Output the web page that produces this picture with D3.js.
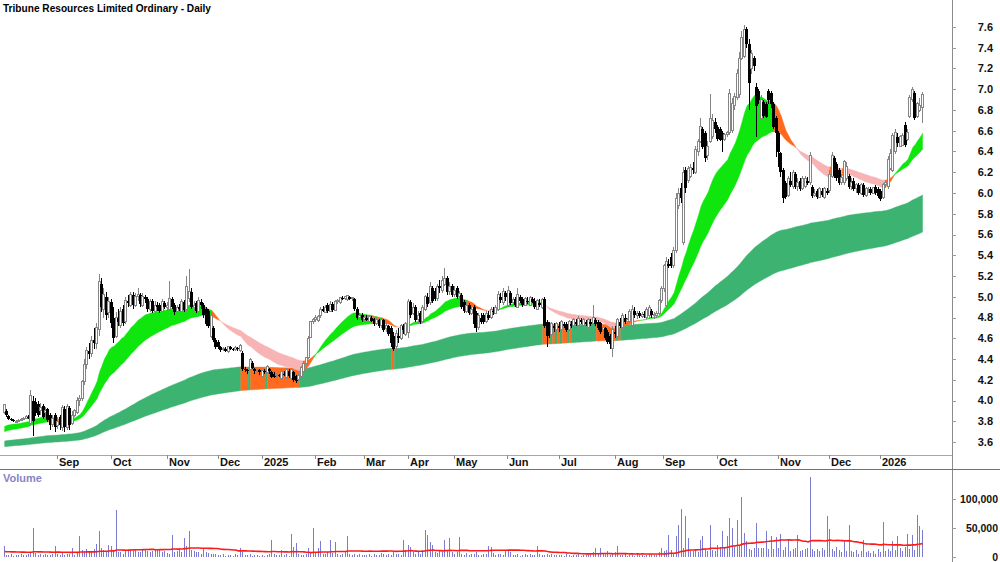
<!DOCTYPE html>
<html><head><meta charset="utf-8">
<script src="https://cdn.jsdelivr.net/npm/d3@7"></script>
<style>
body{margin:0;background:#fff;}
svg{display:block;font-family:"Liberation Sans",Arial,sans-serif;}
</style></head><body>
<svg id="c" width="1000" height="562"></svg>
<script>
const title = "Tribune Resources Limited Ordinary - Daily";
const monthLabels = ["Sep","Oct","Nov","Dec","2025","Feb","Mar","Apr","May","Jun","Jul","Aug","Sep","Oct","Nov","Dec","2026"];
const monthStartIdx = [22,44,67,88,106,128,148,166,185,207,228,251,271,293,318,339,360];
const priceTicks = [3.6,3.8,4.0,4.2,4.4,4.6,4.8,5.0,5.2,5.4,5.6,5.8,6.0,6.2,6.4,6.6,6.8,7.0,7.2,7.4,7.6];
const volumeTicks = [0,50000,100000];
// moving-average ribbon settings (periods) and their starting levels
const shortPeriods = [20,40];
const shortStart = [3.75,3.70];
const longPeriods = [150,250];
const longStart = [3.61,3.555];
// daily candles: [open, high, low, close]
const candles = [
[3.88,3.97,3.87,3.96],[3.90,3.92,3.84,3.86],[3.85,3.86,3.81,3.82],[3.82,3.83,3.80,3.81],[3.81,3.82,3.79,3.80],[3.80,3.81,3.79,3.80],[3.80,3.82,3.80,3.81],[3.81,3.83,3.80,3.82],[3.82,3.84,3.81,3.83],[3.83,3.86,3.82,3.85],[3.84,3.86,3.82,3.83],[3.78,4.10,3.75,4.05],[4.00,4.04,3.66,3.80],[3.99,4.02,3.85,3.88],[3.97,4.00,3.84,3.86],[3.90,3.98,3.86,3.93],[3.95,3.97,3.82,3.84],[3.88,3.94,3.84,3.90],[3.92,3.93,3.79,3.81],[3.86,3.88,3.72,3.76],[3.77,3.86,3.74,3.83],[3.86,3.88,3.70,3.74],
[3.76,3.84,3.73,3.80],[3.84,3.86,3.72,3.76],[3.74,3.96,3.71,3.93],[3.92,3.95,3.70,3.74],[3.74,3.97,3.72,3.94],[3.93,3.95,3.72,3.76],[3.78,3.90,3.76,3.86],[3.86,3.92,3.84,3.90],[3.88,4.03,3.87,4.00],[4.00,4.05,3.95,4.02],[4.02,4.20,4.00,4.18],[4.18,4.40,4.15,4.35],[4.35,4.52,4.30,4.48],[4.48,4.55,4.40,4.45],[4.45,4.62,4.42,4.58],[4.58,4.70,4.50,4.55],[4.55,4.75,4.50,4.70],[4.68,5.22,4.62,5.15],[5.12,5.18,4.85,4.90],[4.88,5.08,4.80,5.02],[5.00,5.05,4.78,4.82],[4.85,5.00,4.80,4.95],
[4.95,4.98,4.70,4.75],[4.80,4.90,4.55,4.60],[4.62,4.85,4.60,4.80],[4.80,4.88,4.72,4.76],[4.72,4.90,4.70,4.86],[4.88,4.92,4.72,4.75],[4.76,5.00,4.74,4.96],[4.96,5.02,4.90,4.94],[4.92,5.05,4.90,5.02],[5.02,5.05,4.88,4.92],[4.92,5.04,4.90,5.00],[5.00,5.08,4.96,5.02],[5.02,5.04,4.90,4.93],[4.92,5.04,4.90,5.00],[5.00,5.02,4.94,4.98],[4.98,5.00,4.85,4.88],[4.88,4.98,4.85,4.95],[4.96,4.98,4.84,4.86],[4.86,4.96,4.84,4.92],[4.92,4.95,4.86,4.90],[4.92,4.94,4.84,4.86],[4.86,4.98,4.85,4.95],[4.94,4.96,4.88,4.90],
[4.90,4.95,4.86,4.92],[4.88,5.15,4.86,4.98],[4.98,5.00,4.88,4.90],[4.92,4.94,4.82,4.85],[4.86,4.92,4.84,4.90],[4.90,4.93,4.86,4.88],[4.86,4.98,4.85,4.95],[4.95,4.97,4.85,4.87],[4.88,5.20,4.86,5.10],[4.98,5.27,4.95,5.05],[5.05,5.08,4.88,4.90],[4.90,4.96,4.86,4.92],[4.94,4.96,4.84,4.86],[4.86,5.00,4.85,4.96],[4.95,4.98,4.88,4.92],[4.92,4.94,4.80,4.82],[4.88,4.90,4.72,4.74],[4.86,4.88,4.70,4.72],[4.62,4.85,4.60,4.82],[4.70,4.72,4.56,4.58],[4.58,4.60,4.50,4.52],
[4.56,4.58,4.50,4.52],[4.52,4.53,4.47,4.49],[4.49,4.52,4.48,4.50],[4.50,4.52,4.47,4.48],[4.47,4.53,4.46,4.52],[4.52,4.53,4.49,4.50],[4.50,4.51,4.48,4.49],[4.49,4.53,4.48,4.51],[4.51,4.52,4.48,4.50],[4.48,4.54,4.47,4.53],[4.46,4.48,4.28,4.30],[4.30,4.32,4.27,4.29],[4.29,4.30,4.26,4.28],[4.30,4.41,4.29,4.40],[4.36,4.38,4.30,4.31],[4.30,4.31,4.26,4.28],[4.28,4.30,4.26,4.29],[4.29,4.30,4.25,4.27],
[4.23,4.30,4.22,4.29],[4.28,4.30,4.26,4.27],[4.27,4.34,4.26,4.33],[4.30,4.31,4.26,4.28],[4.27,4.28,4.22,4.23],[4.26,4.27,4.22,4.23],[4.24,4.26,4.23,4.25],[4.25,4.26,4.23,4.24],[4.21,4.30,4.20,4.28],[4.26,4.28,4.24,4.25],[4.22,4.31,4.21,4.30],[4.28,4.30,4.22,4.24],[4.21,4.31,4.20,4.30],[4.27,4.28,4.18,4.20],[4.24,4.25,4.17,4.19],[4.20,4.26,4.19,4.24],[4.23,4.33,4.22,4.32],[4.28,4.38,4.27,4.36],[4.36,4.42,4.34,4.41],[4.41,4.62,4.40,4.60],[4.61,4.77,4.60,4.76],[4.76,4.80,4.74,4.78],
[4.78,4.82,4.76,4.80],[4.77,4.82,4.76,4.81],[4.82,4.90,4.80,4.88],[4.88,4.91,4.85,4.86],[4.85,4.92,4.84,4.90],[4.92,4.94,4.84,4.86],[4.86,4.96,4.85,4.93],[4.93,4.95,4.85,4.87],[4.87,4.97,4.86,4.95],[4.95,4.98,4.93,4.96],[4.94,5.00,4.93,4.99],[4.99,5.01,4.97,4.98],[4.98,5.01,4.97,5.00],[4.97,5.02,4.96,5.01],[5.00,5.01,4.97,4.98],[4.98,5.00,4.96,4.99],[4.98,4.99,4.86,4.88],[4.88,4.90,4.78,4.80],[4.80,4.84,4.78,4.82],[4.82,4.84,4.76,4.78],
[4.78,4.82,4.76,4.80],[4.80,4.82,4.77,4.78],[4.76,4.82,4.75,4.81],[4.80,4.81,4.76,4.77],[4.79,4.80,4.72,4.74],[4.74,4.80,4.73,4.78],[4.78,4.79,4.70,4.72],[4.72,4.80,4.70,4.78],[4.78,4.79,4.66,4.68],[4.69,4.75,4.66,4.72],[4.72,4.73,4.62,4.64],[4.70,4.72,4.52,4.55],[4.62,4.66,4.48,4.50],[4.52,4.68,4.48,4.65],[4.62,4.70,4.55,4.60],[4.60,4.74,4.58,4.72],[4.72,4.74,4.64,4.68],[4.64,4.76,4.62,4.74],
[4.66,4.98,4.60,4.95],[4.95,4.97,4.80,4.82],[4.84,4.94,4.82,4.90],[4.90,4.92,4.76,4.78],[4.78,4.86,4.74,4.82],[4.84,4.86,4.74,4.76],[4.76,4.92,4.75,4.90],[4.88,5.02,4.86,5.00],[5.00,5.04,4.90,4.93],[4.94,5.14,4.92,5.10],[5.08,5.10,4.94,4.96],[5.06,5.08,4.96,4.98],[4.98,5.12,4.96,5.10],[5.10,5.16,5.04,5.08],[5.06,5.20,5.04,5.16],[5.12,5.28,5.10,5.18],[5.18,5.20,5.02,5.05],[5.05,5.14,5.02,5.10],[5.10,5.12,5.00,5.02],
[5.02,5.10,5.00,5.06],[5.08,5.10,4.98,5.00],[5.00,5.06,4.96,5.03],[5.02,5.04,4.88,4.90],[4.95,4.97,4.84,4.86],[4.86,4.95,4.84,4.92],[4.92,4.94,4.82,4.84],[4.84,4.92,4.82,4.88],[4.90,4.92,4.70,4.74],[4.84,4.86,4.66,4.70],[4.70,4.84,4.68,4.82],[4.80,4.84,4.74,4.76],[4.82,4.84,4.74,4.76],[4.76,4.86,4.75,4.84],[4.82,4.86,4.78,4.80],[4.80,4.90,4.79,4.88],[4.86,4.90,4.82,4.85],[4.84,4.92,4.83,4.90],[4.88,5.06,4.86,5.02],[5.00,5.04,4.94,4.97],[4.94,5.08,4.92,5.05],[5.04,5.06,4.96,5.00],
[4.92,5.10,4.90,5.06],[5.04,5.06,4.92,4.94],[4.94,5.00,4.92,4.97],[4.98,5.00,4.90,4.92],[4.90,5.08,4.89,5.02],[5.00,5.02,4.94,4.96],[4.98,5.00,4.90,4.92],[4.92,5.00,4.91,4.98],[4.96,5.00,4.93,4.95],[4.92,5.01,4.91,4.99],[4.98,5.00,4.94,4.95],[4.96,4.99,4.88,4.90],[4.88,4.98,4.87,4.96],[4.94,4.98,4.90,4.92],[4.90,4.99,4.88,4.97],[4.98,5.00,4.70,4.72],[4.76,4.78,4.52,4.62],[4.70,4.76,4.60,4.66],[4.64,4.76,4.62,4.74],[4.72,4.75,4.66,4.70],[4.68,4.76,4.66,4.74],
[4.72,4.76,4.66,4.70],[4.68,4.78,4.66,4.76],[4.74,4.76,4.70,4.72],[4.74,4.76,4.66,4.68],[4.68,4.78,4.67,4.76],[4.74,4.77,4.70,4.72],[4.72,4.80,4.71,4.78],[4.76,4.79,4.72,4.74],[4.72,4.81,4.71,4.79],[4.78,4.80,4.74,4.76],[4.72,4.80,4.70,4.78],[4.76,4.78,4.72,4.74],[4.70,4.80,4.68,4.78],[4.76,4.79,4.72,4.74],[4.74,4.92,4.73,4.80],[4.78,4.80,4.72,4.74],[4.76,4.78,4.68,4.70],[4.75,4.76,4.64,4.66],[4.68,4.72,4.64,4.70],[4.70,4.71,4.58,4.60],[4.66,4.68,4.54,4.56],[4.62,4.64,4.50,4.54],[4.50,4.72,4.42,4.68],
[4.66,4.72,4.60,4.64],[4.62,4.80,4.61,4.78],[4.76,4.80,4.70,4.72],[4.70,4.84,4.68,4.82],[4.80,4.83,4.74,4.76],[4.76,4.80,4.74,4.78],[4.76,4.88,4.75,4.86],[4.72,4.92,4.70,4.88],[4.86,4.90,4.80,4.82],[4.82,4.86,4.79,4.84],[4.84,4.86,4.80,4.81],[4.81,4.85,4.80,4.83],[4.83,4.86,4.80,4.82],[4.80,4.90,4.79,4.88],[4.82,4.92,4.80,4.90],[4.86,4.88,4.80,4.82],[4.82,4.85,4.79,4.83],[4.82,4.86,4.80,4.84],[4.84,4.98,4.82,4.96],[4.96,5.10,4.94,5.08],
[5.08,5.32,5.05,5.30],[4.92,5.38,4.90,5.34],[5.32,5.36,5.28,5.30],[5.38,5.42,5.28,5.30],[5.30,5.48,5.28,5.45],[5.45,6.00,5.42,5.95],[5.88,6.05,5.85,6.00],[6.05,6.10,5.90,5.95],[5.52,6.25,5.50,6.20],[6.22,6.25,6.00,6.05],[6.12,6.26,6.10,6.24],[6.16,6.28,6.14,6.25],[6.24,6.30,6.18,6.22],[6.20,6.45,6.18,6.42],[6.40,6.52,6.36,6.50],[6.50,6.72,6.48,6.64],[6.62,6.64,6.42,6.44],[6.58,6.60,6.30,6.34],[6.36,6.50,6.32,6.45],[6.50,6.95,6.48,6.72],[6.54,6.76,6.52,6.70],[6.68,6.72,6.58,6.62],
[6.64,6.66,6.50,6.52],[6.62,6.64,6.50,6.51],[6.58,6.60,6.40,6.51],[6.52,6.58,6.50,6.56],[6.56,6.60,6.54,6.58],[6.58,7.00,6.56,6.96],[6.60,6.92,6.58,6.86],[6.84,6.96,6.80,6.93],[6.92,7.20,6.90,7.15],[6.95,7.36,6.92,7.30],[7.30,7.56,7.28,7.50],[7.32,7.62,7.30,7.58],[7.58,7.60,7.40,7.44],[7.44,7.48,6.80,7.06],[7.20,7.38,7.15,7.34],[7.30,7.32,7.18,7.22],[7.02,7.06,6.54,6.84],[6.98,7.00,6.86,6.90],[6.72,6.94,6.70,6.90],[6.88,6.90,6.72,6.74],[6.86,6.88,6.72,6.73],[6.98,7.00,6.86,6.90],[6.96,6.98,6.82,6.86],[6.86,6.88,6.62,6.64],[6.72,6.74,6.35,6.58],
[6.58,6.60,6.25,6.40],[6.39,6.40,6.15,6.20],[6.22,6.24,5.90,5.95],[6.10,6.12,5.94,5.96],[5.98,6.16,5.96,6.14],[6.12,6.20,6.06,6.08],[6.06,6.22,6.04,6.20],[6.18,6.20,6.04,6.06],[6.06,6.14,6.02,6.10],[6.12,6.14,6.02,6.04],[6.04,6.16,6.03,6.14],[6.06,6.16,6.05,6.14],[6.12,6.15,6.08,6.10],[6.10,6.40,6.08,6.36],[6.06,6.08,5.95,5.97],[5.98,6.04,5.96,6.00],[6.02,6.04,5.94,5.96],[5.96,6.06,5.95,6.04],[6.02,6.05,5.96,5.98],[5.96,6.06,5.94,6.04],[6.02,6.05,5.98,6.00],
[6.02,6.22,6.00,6.18],[6.16,6.40,6.14,6.36],[6.34,6.36,6.14,6.16],[6.28,6.30,6.12,6.14],[6.22,6.24,6.08,6.10],[6.10,6.18,6.08,6.15],[6.10,6.32,6.08,6.30],[6.14,6.30,6.12,6.26],[6.16,6.18,6.04,6.06],[6.06,6.14,6.03,6.10],[6.12,6.14,6.02,6.04],[6.04,6.10,6.00,6.08],[6.08,6.10,5.98,6.00],[6.00,6.10,5.98,6.08],[6.08,6.10,5.96,5.98],[5.98,6.06,5.96,6.04],[6.02,6.06,6.00,6.03],[6.04,6.06,5.98,6.00],[6.00,6.06,5.99,6.05],[6.06,6.08,5.98,6.00],[6.04,6.06,5.95,5.97],
[6.02,6.04,5.92,5.94],[5.96,6.10,5.94,6.08],[6.08,6.13,6.05,6.10],[6.06,6.36,6.04,6.32],[6.24,6.42,6.22,6.38],[6.22,6.58,6.20,6.55],[6.40,6.62,6.38,6.58],[6.54,6.58,6.44,6.48],[6.45,6.56,6.44,6.54],[6.46,6.58,6.45,6.55],[6.66,6.68,6.44,6.46],[6.52,6.62,6.50,6.58],[6.74,6.94,6.72,6.92],[6.90,7.02,6.88,7.00],[6.96,6.98,6.70,6.72],[6.74,6.88,6.72,6.86],[6.80,6.92,6.78,6.84],[6.82,6.97,6.67,6.95]
];
const volumes = [
19000,4000,3000,5000,2000,4000,3000,6000,3000,4000,5000,9000,50000,7000,4000,5000,3000,6000,4000,3000,5000,19000,
6000,3000,8000,4000,5000,6000,16000,4000,7000,36000,12000,10000,14000,8000,11000,13000,22000,45000,15000,12000,9000,21000,
19000,12000,81000,9000,8000,6000,10000,12000,13000,11000,12000,9000,8000,13000,12000,10000,9000,11000,14000,12000,13000,8000,10000,
7000,6000,38000,9000,10000,15000,9000,32000,19000,45000,12000,10000,9000,8000,6000,15000,9000,7000,6000,5000,6000,
4000,3000,5000,2000,4000,3000,2000,5000,3000,16000,8000,4000,3000,6000,2000,4000,3000,2000,
3000,2000,4000,5000,29000,6000,3000,4000,12000,3000,5000,2000,40000,18000,24000,6000,4000,3000,5000,15000,9000,50000,
8000,16000,28000,6000,5000,9000,29000,7000,26000,5000,4000,6000,8000,37000,5000,4000,6000,3000,5000,4000,
4000,3000,6000,2000,5000,4000,3000,7000,5000,3000,6000,4000,8000,5000,6000,4000,29000,12000,
20000,18000,8000,6000,10000,5000,12000,47000,38000,26000,20000,9000,7000,10000,8000,29000,12000,33000,9000,
6000,8000,34000,5000,4000,7000,3000,6000,5000,9000,4000,3000,6000,5000,19000,18000,7000,4000,6000,5000,3000,12000,
12000,8000,4000,3000,5000,2000,4000,6000,3000,5000,4000,3000,19000,5000,3000,4000,6000,3000,5000,4000,3000,
3000,4000,2000,5000,3000,2000,4000,3000,5000,2000,4000,3000,6000,4000,9000,15000,6000,15000,5000,7000,10000,4000,6000,
8000,19000,4000,3000,5000,2000,4000,3000,2000,5000,3000,4000,2000,3000,5000,6000,3000,4000,8000,15000,
10000,12000,38000,12000,7000,36000,55000,83000,15000,70000,32000,10000,11000,12000,8000,30000,36000,14000,10000,55000,12000,11000,
20000,18000,45000,15000,36000,68000,50000,17000,64000,20000,104000,41000,28000,14000,12000,15000,59000,16000,15000,16000,44000,14000,36000,14000,34000,
15000,40000,12000,17000,30000,11000,14000,16000,38000,10000,12000,14000,15000,138000,14000,11000,13000,10000,15000,12000,70000,
48000,14000,10000,17000,12000,8000,29000,11000,55000,10000,8000,12000,6000,10000,30000,8000,11000,7000,10000,6000,14000,
8000,61000,10000,14000,11000,28000,12000,36000,15000,10000,17000,39000,14000,38000,12000,72000,53000,46000
];
const volumeAvgPeriod = 50;
const volumeAvgStart = 9000;

// ---------- layout ----------
const W = 1000, H = 562;
const axisX = 952, priceBottom = 455, stripBottom = 470;
const N = Math.min(candles.length, volumes.length);
const x = d3.scaleBand().domain(d3.range(N)).range([3.4, 3.4 + N * 2.435]).paddingInner(0);
const bw = x.bandwidth();
const cx = i => x(i) + bw / 2;
const y = d3.scaleLinear().domain([3.6, 7.6]).range([442, 27]);
const yv = d3.scaleLinear().domain([0, 100000]).range([557, 499]);

const svg = d3.select("#c");
const defs = svg.append("defs");
defs.append("clipPath").attr("id", "pc").append("rect").attr("x", 0).attr("y", 0).attr("width", axisX).attr("height", priceBottom);
defs.append("clipPath").attr("id", "vc").append("rect").attr("x", 0).attr("y", stripBottom).attr("width", axisX).attr("height", H - stripBottom);

// ---------- indicators ----------
function ema(vals, period, start) {
  const a = 2 / (period + 1);
  const out = [start];
  for (let i = 1; i < vals.length; i++) out.push(out[i - 1] + a * (vals[i] - out[i - 1]));
  return out;
}
const closes = candles.slice(0, N).map(d => d[3]);
const sF = ema(closes, shortPeriods[0], shortStart[0]);
const sS = ema(closes, shortPeriods[1], shortStart[1]);
const lF = ema(closes, longPeriods[0], longStart[0]);
const lS = ema(closes, longPeriods[1], longStart[1]);

// short ribbon: order of fast/slow + direction of slow average
function shortState(i) {
  const j = Math.max(i, 1);
  const above = sF[j] >= sS[j], rising = sS[j] >= sS[j - 1];
  return above && rising ? 2 : (!above && !rising ? 0 : 1);
}
// long ribbon: direction of the faster long average
function longState(i) {
  const j = Math.max(i, 1);
  return lF[j] >= lF[j - 1] ? 2 : 1;
}
const pg = svg.append("g").attr("clip-path", "url(#pc)");

function drawBand(f, s, stateOf, colorFor) {
  const cols = d3.range(N).map(i => colorFor(stateOf(i)));
  const area = d3.area().x(j => cx(j)).y0(j => y(Math.min(f[j], s[j]))).y1(j => y(Math.max(f[j], s[j])));
  let start = 0;
  for (let i = 1; i <= N; i++) {
    if (i === N || cols[i] !== cols[start]) {
      const idx = d3.range(Math.max(start - 1, 0), i);
      if (idx.length >= 2) {
        pg.append("path").datum(idx).attr("d", area).attr("fill", cols[start])
          .attr("stroke", cols[start]).attr("stroke-width", 0.4);
      }
      start = i;
    }
  }
}
drawBand(lF, lS, longState, t => t === 2 ? "#3cb371" : "#ff6a1f");
drawBand(sF, sS, shortState, t => t === 2 ? "#0ee60e" : (t === 0 ? "#f8b4b4" : "#ff6a1f"));

// ---------- candles ----------
const cg = pg.append("g").attr("shape-rendering", "crispEdges");
candles.slice(0, N).forEach((d, i) => {
  const [o, h, l, c] = d;
  const up = c >= o;
  const px = Math.round(cx(i));
  const col = up ? "#858585" : "#000";
  cg.append("line").attr("x1", px - 0.5).attr("x2", px - 0.5).attr("y1", y(h)).attr("y2", y(l)).attr("stroke", col).attr("stroke-width", 1);
  const top = y(Math.max(o, c)), bot = y(Math.min(o, c));
  const hgt = Math.max(bot - top, 1);
  if (up) {
    cg.append("rect").attr("x", px - 1.5).attr("y", top).attr("width", 2).attr("height", hgt)
      .attr("fill", "#fff").attr("stroke", col).attr("stroke-width", 1);
  } else {
    cg.append("rect").attr("x", px - 2).attr("y", top).attr("width", 3).attr("height", hgt).attr("fill", "#000");
  }
});

// ---------- volume ----------
const vg = svg.append("g").attr("clip-path", "url(#vc)");
vg.append("g").attr("shape-rendering", "crispEdges").selectAll("rect").data(volumes.slice(0, N)).join("rect")
  .attr("x", (d, i) => Math.round(cx(i)) - 1).attr("width", 1)
  .attr("y", d => yv(d)).attr("height", d => yv(0) - yv(d)).attr("fill", "#7b7bd3");
const vAvg = volumes.slice(0, N).map((v, i) => {
  let sum = 0;
  for (let k = i - volumeAvgPeriod + 1; k <= i; k++) sum += k >= 0 ? volumes[k] : volumeAvgStart;
  return sum / volumeAvgPeriod;
});
vg.append("path").datum(vAvg).attr("fill", "none").attr("stroke", "#ff1a1a").attr("stroke-width", 1.6)
  .attr("d", d3.line().x((d, i) => cx(i)).y(d => yv(d)));

// ---------- frame & axes ----------
svg.append("line").attr("x1", axisX + 0.5).attr("x2", axisX + 0.5).attr("y1", 0).attr("y2", H).attr("stroke", "#8c8c8c");
svg.append("line").attr("x1", 0).attr("x2", axisX).attr("y1", priceBottom + 0.5).attr("y2", priceBottom + 0.5).attr("stroke", "#a6a6a6");
svg.append("line").attr("x1", 0).attr("x2", W).attr("y1", stripBottom - 0.5).attr("y2", stripBottom - 0.5).attr("stroke", "#707070");

const yAxis = svg.append("g");
priceTicks.forEach(t => {
  yAxis.append("line").attr("x1", axisX).attr("x2", axisX + 4).attr("y1", Math.round(y(t)) + 0.5).attr("y2", Math.round(y(t)) + 0.5).attr("stroke", "#999");
  yAxis.append("text").attr("x", 993).attr("y", y(t)).attr("dy", "0.35em").attr("text-anchor", "end")
    .attr("font-size", 11).attr("font-weight", "bold").attr("fill", "#111").text(t.toFixed(1));
});
volumeTicks.forEach(t => {
  yAxis.append("line").attr("x1", axisX).attr("x2", axisX + 4).attr("y1", Math.round(yv(t)) + 0.5).attr("y2", Math.round(yv(t)) + 0.5).attr("stroke", "#999");
  yAxis.append("text").attr("x", 998).attr("y", yv(t)).attr("dy", "0.35em").attr("text-anchor", "end")
    .attr("font-size", 10.5).attr("font-weight", "bold").attr("fill", "#111").text(d3.format(",")(t));
});
const xAxis = svg.append("g");
monthLabels.forEach((m, k) => {
  const xi = Math.round(x(monthStartIdx[k]));
  xAxis.append("line").attr("x1", xi + 0.5).attr("x2", xi + 0.5).attr("y1", priceBottom).attr("y2", priceBottom + 4).attr("stroke", "#888");
  xAxis.append("text").attr("x", xi + 2).attr("y", 466).attr("font-size", 11).attr("font-weight", "bold").attr("fill", "#111").text(m);
});

// ---------- titles ----------
svg.append("text").attr("x", 3).attr("y", 12).attr("font-size", 11.5).attr("font-weight", "bold").attr("fill", "#000")
  .attr("textLength", 208).attr("lengthAdjust", "spacingAndGlyphs").text(title);
svg.append("text").attr("x", 3).attr("y", 482).attr("font-size", 11).attr("font-weight", "bold").attr("fill", "#8585c8").text("Volume");
</script>
</body></html>
